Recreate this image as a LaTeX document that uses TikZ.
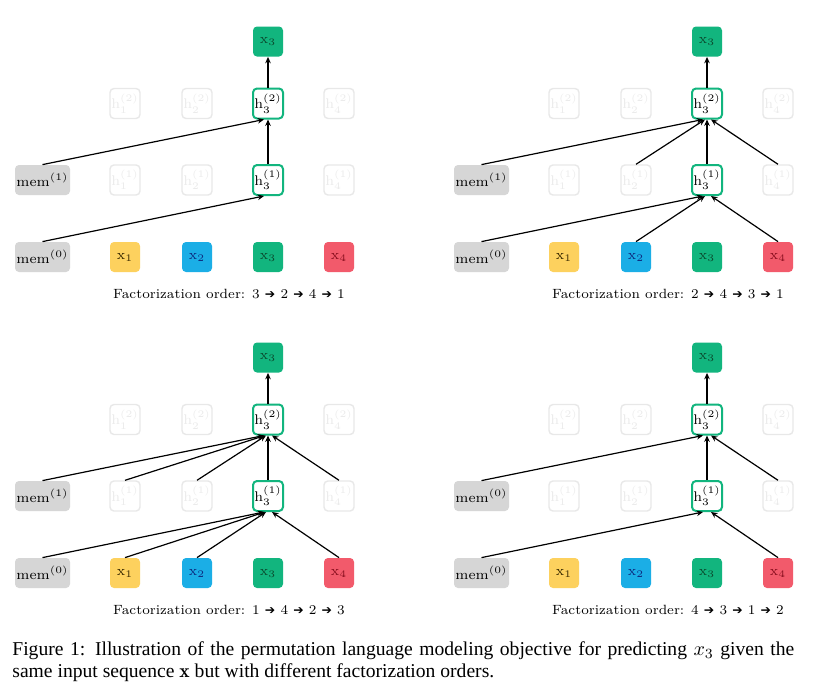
\documentclass[tikz,border=0pt]{standalone}
\usepackage{fontspec}
\usetikzlibrary{arrows.meta}
\newfontfamily\timesfont{Liberation Serif}
\newfontfamily\dejavu{DejaVu Sans}
\definecolor{cy}{HTML}{FDD15E}
\definecolor{cb}{HTML}{1BAEE6}
\definecolor{cg}{HTML}{12B57E}
\definecolor{cr}{HTML}{F25A6B}
\definecolor{cm}{HTML}{D6D6D6}
\definecolor{fade}{HTML}{E8E8E8}
\definecolor{tx1}{HTML}{3A2A00}
\definecolor{tx2}{HTML}{0D2C80}
\definecolor{tx3}{HTML}{0B4D30}
\definecolor{tx4}{HTML}{8B1020}
\tikzset{
  bx/.style={rounded corners=2pt, minimum width=15pt, minimum height=15pt, inner sep=0pt, font=\fontsize{7}{8}\selectfont},
  membx/.style={bx, fill=cm, minimum width=27.5pt},
  hbx/.style={bx, draw=cg, line width=1pt, fill=white},
  fbx/.style={bx, draw=fade, line width=0.7pt, text=black!8},
  arr/.style={-{Stealth[length=3.2pt,width=2.8pt]}, line width=0.6pt},
  ordtxt/.style={font=\fontsize{6.7}{8}\selectfont, inner sep=0pt}
}
\newcommand\arrsym{{\dejavu\fontsize{6.2}{8}\selectfont ➔}}
\newcommand\mypanel[5]{%
\begin{scope}[shift={(#2,#3)}]
  \node[membx] (#1m0) at (42.5,257) {mem$^{(0)}$};
  \node[membx] (#1m1) at (42.5,180) {mem$^{(#4)}$};
  \node[bx, fill=cy, text=tx1] (#1x1) at (125,257) {$\mathrm{x}_1$};
  \node[bx, fill=cb, text=tx2] (#1x2) at (197,257) {$\mathrm{x}_2$};
  \node[bx, fill=cg, text=tx3] (#1x3) at (268,257) {$\mathrm{x}_3$};
  \node[bx, fill=cr, text=tx4] (#1x4) at (339,257) {$\mathrm{x}_4$};
  \node[fbx] (#1h11) at (125,180) {$\mathrm{h}_1^{(1)}$};
  \node[fbx] (#1h21) at (197,180) {$\mathrm{h}_2^{(1)}$};
  \node[hbx] (#1h31) at (268,180) {$\mathrm{h}_3^{(1)}$};
  \node[fbx] (#1h41) at (339,180) {$\mathrm{h}_4^{(1)}$};
  \node[fbx] (#1h12) at (125,103.5) {$\mathrm{h}_1^{(2)}$};
  \node[fbx] (#1h22) at (197,103.5) {$\mathrm{h}_2^{(2)}$};
  \node[hbx] (#1h32) at (268,103.5) {$\mathrm{h}_3^{(2)}$};
  \node[fbx] (#1h42) at (339,103.5) {$\mathrm{h}_4^{(2)}$};
  \node[bx, fill=cg, text=tx3] (#1top) at (268,41.5) {$\mathrm{x}_3$};
  \node[ordtxt] (#1ord) at (229,294) {Factorization order: #5};
  \draw[arr] (#1h31.north) -- (#1h32.south);
  \draw[arr] (#1h32.north) -- (#1top.south);
  \draw[arr] (#1m0.north) -- ([xshift=-2pt]#1h31.south);
  \draw[arr] (#1m1.north) -- ([xshift=-2pt]#1h32.south);
\end{scope}}
\begin{document}
\begin{tikzpicture}[x=0.5pt,y=-0.5pt]
  \useasboundingbox[fill=white] (0,0) rectangle (834,691);
  \mypanel{a}{0}{0}{1}{3 \arrsym\ 2 \arrsym\ 4 \arrsym\ 1}
  \mypanel{b}{439}{0}{1}{2 \arrsym\ 4 \arrsym\ 3 \arrsym\ 1}
  \mypanel{c}{0}{316}{1}{1 \arrsym\ 4 \arrsym\ 2 \arrsym\ 3}
  \mypanel{d}{439}{316}{0}{4 \arrsym\ 3 \arrsym\ 1 \arrsym\ 2}
  % panel b
  \draw[arr] (bx2.north) -- ([xshift=-1pt]bh31.south);
  \draw[arr] (bx4.north) -- ([xshift=2pt]bh31.south);
  \draw[arr] (bh21.north) -- ([xshift=-1pt]bh32.south);
  \draw[arr] (bh41.north) -- ([xshift=2pt]bh32.south);
  % panel c
  \draw[arr] (cx1.north) -- ([xshift=-1.5pt]ch31.south);
  \draw[arr] (cx2.north) -- ([xshift=-1pt]ch31.south);
  \draw[arr] (cx4.north) -- ([xshift=2pt]ch31.south);
  \draw[arr] (ch11.north) -- ([xshift=-1.5pt]ch32.south);
  \draw[arr] (ch21.north) -- ([xshift=-1pt]ch32.south);
  \draw[arr] (ch41.north) -- ([xshift=2pt]ch32.south);
  % panel d
  \draw[arr] (dx4.north) -- ([xshift=2pt]dh31.south);
  \draw[arr] (dh41.north) -- ([xshift=2pt]dh32.south);
  % caption
  \node[anchor=north west, text width=391pt, align=justify, inner sep=0pt,
        font=\timesfont\fontsize{9.8}{11}\selectfont] (cap) at (12,641)
    {Figure 1: Illustration of the permutation language modeling objective for predicting $x_3$ given the\linebreak same input sequence $\mathbf{x}$ but with different factorization orders.};
\end{tikzpicture}
\end{document}
